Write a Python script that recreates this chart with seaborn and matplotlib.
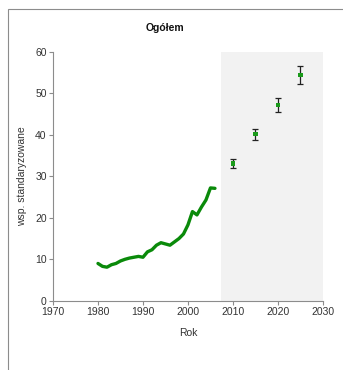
import matplotlib
matplotlib.use("Agg")
import matplotlib.pyplot as plt
from matplotlib.patches import Rectangle
import seaborn as sns
import pandas as pd

# Observed standardized rates
years = [1980, 1981, 1982, 1983, 1984, 1985, 1986, 1987, 1988, 1989, 1990,
         1991, 1992, 1993, 1994, 1995, 1996, 1997, 1998, 1999, 2000, 2001,
         2002, 2003, 2004, 2005, 2006]
rates = [9.0, 8.3, 8.1, 8.7, 9.0, 9.6, 10.0, 10.3, 10.5, 10.7, 10.5,
         11.8, 12.3, 13.4, 14.0, 13.7, 13.4, 14.2, 15.0, 16.1, 18.3, 21.5,
         20.7, 22.6, 24.3, 27.2, 27.1]

# Projections with uncertainty
proj_years = [2010, 2015, 2020, 2025]
proj_rates = [33.1, 40.1, 47.2, 54.4]
proj_err = [1.1, 1.3, 1.7, 2.1]

projection_start = 2007.3

sns.set_style("white")
plt.rcParams["font.family"] = ["Liberation Sans", "DejaVu Sans"]

fig = plt.figure(figsize=(3.43, 3.70), dpi=100)
ax = fig.add_axes([0.1545, 0.187, 0.787, 0.673])

# outer frame
fig.patches.append(Rectangle((8 / 343, -0.05), 1.1, (370 - 9) / 370 + 0.05,
                             transform=fig.transFigure, fill=False,
                             edgecolor="#8c8c8c", linewidth=0.8))

ax.axvspan(projection_start, 2030, color="#f2f2f2", zorder=0, lw=0)

obs = pd.DataFrame({"Rok": years, "wsp": rates})
sns.lineplot(data=obs, x="Rok", y="wsp", ax=ax, color="#0a8a0a",
             linewidth=2.4, zorder=3)

ax.errorbar(proj_years, proj_rates, yerr=proj_err, fmt="none",
            ecolor="#222222", elinewidth=0.9, capsize=2, capthick=0.9, zorder=3)
proj = pd.DataFrame({"Rok": proj_years, "wsp": proj_rates})
sns.scatterplot(data=proj, x="Rok", y="wsp", ax=ax, color="#1a9a1a",
                marker="s", s=9, edgecolor="none", zorder=4)

ax.set_xlim(1970, 2030)
ax.set_ylim(0, 60)
ax.set_xticks(range(1970, 2031, 10))
ax.set_yticks(range(0, 61, 10))

for s in ["top", "right"]:
    ax.spines[s].set_visible(False)
for s in ["left", "bottom"]:
    ax.spines[s].set_color("#8c8c8c")
    ax.spines[s].set_linewidth(0.8)
ax.tick_params(axis="both", direction="out", length=3, width=0.8,
               color="#8c8c8c", labelsize=7.5, labelcolor="#333333",
               left=True, bottom=True, pad=1.5)

ax.set_xlabel("Rok", fontsize=7.5, color="#333333", labelpad=8)
ax.set_ylabel("wsp. standaryzowane", fontsize=7.5, color="#333333", labelpad=6)
fig.text(165 / 343, (370 - 28) / 370, "Ogółem", fontsize=7.5,
         fontweight="bold", color="#111111", ha="center", va="center")

fig.savefig("out.png", dpi=100)
